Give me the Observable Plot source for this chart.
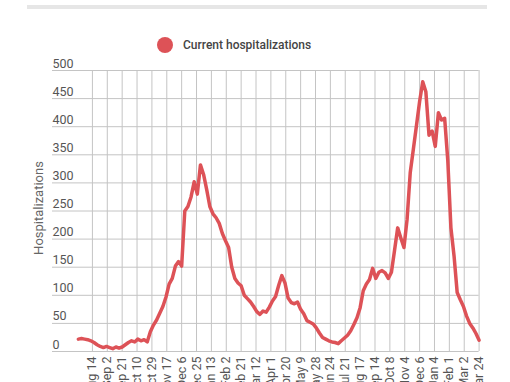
<!DOCTYPE html>
<html><head><meta charset="utf-8">
<script src="https://cdn.jsdelivr.net/npm/d3@7"></script>
<script src="https://cdn.jsdelivr.net/npm/@observablehq/plot@0.6"></script>
<style>
body{margin:0;background:#fff;font-family:Roboto,sans-serif;}
#wrap{position:relative;width:510px;height:382px;overflow:hidden;}
#bar{position:absolute;left:27px;top:5px;width:460px;height:4px;background:#e6e6e6;}
#legend{position:absolute;left:157px;top:36px;height:18px;display:flex;align-items:center;font-size:12px;font-weight:500;color:#444;line-height:18px;}
#legend .dot{width:16px;height:16px;border-radius:50%;background:#dd5257;margin-right:10px;}
#chart{position:absolute;left:0;top:0;}
</style>
</head><body>
<div id="wrap"><div id="bar"></div><div id="chart"></div>
<div id="legend"><div class="dot"></div><span id="legtext"></span></div></div>
<script>
const seriesName = "Current hospitalizations";
const yTitle = "Hospitalizations";
// one sample every 4 records (record index = sample * indexStep)
const indexStep = 4;
const hospitalizations = [
  22,23,22,21,19,16,12,9,7,9,7,5,8,6,8,12,16,19,17,22,19,21,17,35,47,56,68,80,97,120,
  130,152,160,152,250,258,275,302,280,332,315,288,258,245,238,228,210,197,185,150,
  130,122,117,100,94,88,80,71,66,72,70,79,90,98,118,135,122,95,87,85,88,75,67,55,52,
  49,42,33,25,22,19,17,16,14,19,24,29,37,48,60,78,108,120,128,148,130,141,144,140,130,
  141,180,220,202,185,235,318,360,402,445,480,462,385,392,365,425,412,415,340,220,
  170,105,92,80,63,50,42,32,20
];
const tickLabels = ["Aug 14","Sep 2","Sep 21","Oct 10","Oct 29","Nov 17","Dec 6","Dec 25","Jan 13","Feb 2","Feb 21","Mar 12","Apr 1","Apr 20","May 9","May 28","Jun 24","Jul 21","Aug 17","Sep 14","Oct 8","Nov 4","Dec 6","Jan 4","Feb 1","Mar 2","Mar 24"];
const firstTickIndex = 18, tickEvery = 19;
const yTicks = [0,50,100,150,200,250,300,350,400,450,500];

const data = hospitalizations.map((v,i)=>({idx:i*indexStep, value:v}));
const tickIdx = tickLabels.map((_,i)=>firstTickIndex + i*tickEvery);
const labelMap = new Map(tickIdx.map((t,i)=>[t, tickLabels[i]]));
document.getElementById("legtext").textContent = seriesName;

const chart = Plot.plot({
  width: 510, height: 382,
  marginTop: 70, marginBottom: 31, marginLeft: 52, marginRight: 31.4,
  style: {fontFamily: "Roboto, sans-serif", background: "transparent"},
  x: {domain: [-33, 512]},
  y: {domain: [0, 500]},
  marks: [
    Plot.gridY(yTicks, {stroke: "#c4c4c4", strokeOpacity: 1}),
    Plot.gridX(tickIdx, {stroke: "#c4c4c4", strokeOpacity: 1}),
    Plot.axisY(yTicks, {tickSize: 0, tickPadding: 0, textAnchor: "start", dy: -7, fontSize: 12.5, fill: "#555", label: null}),
    Plot.axisX(tickIdx, {tickSize: 0, tickPadding: 5, tickRotate: -90, tickFormat: d => labelMap.get(d), fontSize: 12.5, fill: "#555", label: null}),
    Plot.text([yTitle], {frameAnchor: "left", textAnchor: "middle", lineAnchor: "middle", rotate: -90, dx: -14, dy: -3, fontSize: 13, fill: "#666"}),
    Plot.line(data, {x: "idx", y: "value", stroke: "#dd5257", strokeWidth: 3.5, strokeLinejoin: "round"})
  ]
});
document.getElementById("chart").appendChild(chart);
</script>
</body></html>
